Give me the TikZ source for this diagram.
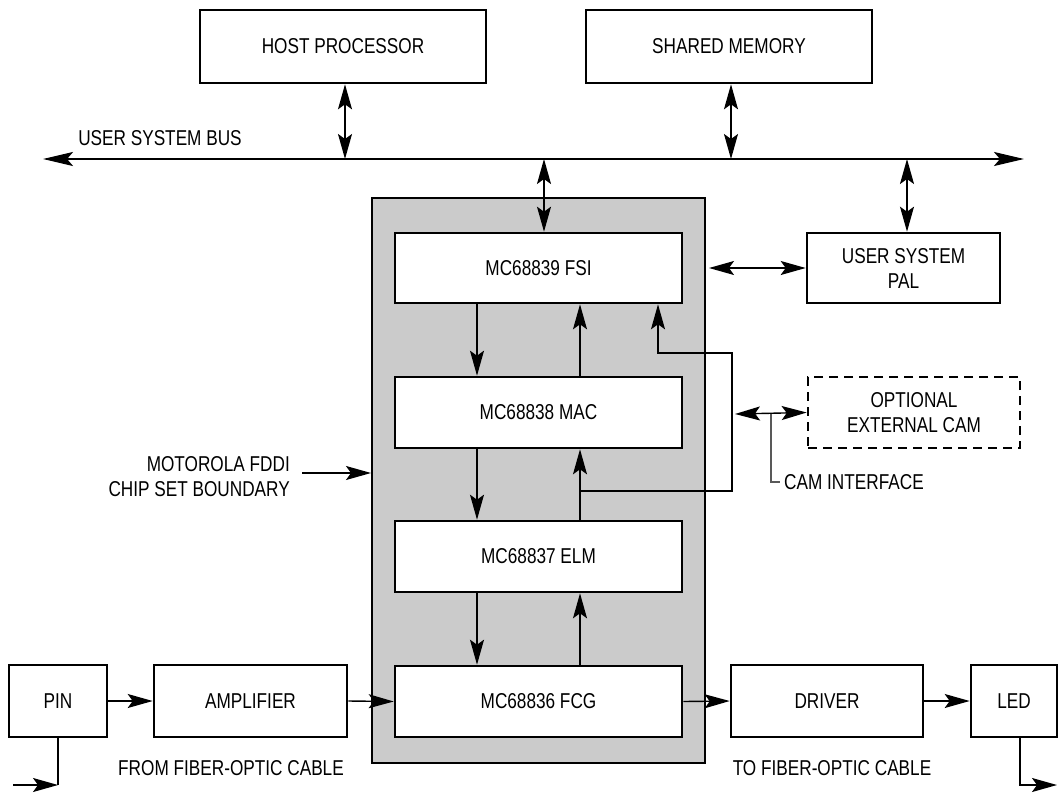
\documentclass[tikz,border=0pt]{standalone}
\usepackage{fontspec}
\setmainfont{Liberation Sans}[FakeStretch=0.8]
\usetikzlibrary{arrows.meta,calc}
\definecolor{chipgray}{HTML}{CBCBCB}
\tikzset{
  blk/.style={draw, line width=2.6pt, fill=white, inner sep=0pt, align=center, font=\fontsize{21.5}{25}\selectfont},
  dblk/.style={blk, dash pattern=on 9pt off 6pt},
  chipbox/.style={draw, line width=2pt, fill=chipgray, inner sep=0pt},
  hd/.tip={Stealth[length=25pt,width=14pt,inset=5pt]},
  arr/.style={line width=1.4pt, -hd},
  dbl/.style={line width=1.4pt, hd-hd},
  lbl/.style={inner sep=0pt, font=\fontsize{21.5}{25}\selectfont, align=center},
}
\begin{document}
\begin{tikzpicture}[x=1pt,y=-1pt]
\useasboundingbox (0,0) rectangle (1058,793);
% chip set boundary
\node[chipbox, minimum width=333pt, minimum height=565pt] (chip) at (538.5,480.5) {};
% boxes
\node[blk, minimum width=286pt, minimum height=73pt] (host) at (343,46.5) {HOST PROCESSOR};
\node[blk, minimum width=286pt, minimum height=73pt] (shm) at (729,46.5) {SHARED MEMORY};
\node[blk, minimum width=287pt, minimum height=70pt] (fsi) at (538.5,268) {MC68839 FSI};
\node[blk, minimum width=287pt, minimum height=71pt] (mac) at (538.5,412.5) {MC68838 MAC};
\node[blk, minimum width=287pt, minimum height=71pt] (elm) at (538.5,556.5) {MC68837 ELM};
\node[blk, minimum width=287pt, minimum height=71pt] (fcg) at (538.5,701.5) {MC68836 FCG};
\node[blk, minimum width=193pt, minimum height=70pt] (pal) at (903.5,268) {USER SYSTEM\\PAL};
\node[dblk, minimum width=212pt, minimum height=71pt] (cam) at (914,412.5) {OPTIONAL\\EXTERNAL CAM};
\node[blk, minimum width=98pt, minimum height=72pt] (pin) at (58,701) {PIN};
\node[blk, minimum width=193pt, minimum height=72pt] (amp) at (250.5,701) {AMPLIFIER};
\node[blk, minimum width=192pt, minimum height=72pt] (drv) at (827,701) {DRIVER};
\node[blk, minimum width=86pt, minimum height=72pt] (led) at (1014,701) {LED};
% labels
\node[lbl] (busl) at (160,138) {USER SYSTEM BUS};
\node[lbl, anchor=east, align=right] (moto) at (290,477) {MOTOROLA FDDI\\CHIP SET BOUNDARY};
\node[lbl, anchor=west] (camif) at (784,482) {CAM INTERFACE};
\node[lbl] (from) at (231,768) {FROM FIBER-OPTIC CABLE};
\node[lbl] (to) at (832,768) {TO FIBER-OPTIC CABLE};
% bus
\coordinate (busL) at (43,159);
\coordinate (busR) at (1024,159);
\draw[line width=2.2pt, {Stealth[length=30pt,width=14pt,inset=6pt]}-{Stealth[length=30pt,width=14pt,inset=6pt]}] (busL) -- (busR);
\draw[dbl] ([xshift=2pt]host.south) -- ([xshift=2pt]host.south |- busL);
\draw[dbl] ([xshift=2pt]shm.south) -- ([xshift=2pt]shm.south |- busL);
\draw[dbl] ([xshift=5.5pt]fsi.north |- busL) -- ([xshift=5.5pt]fsi.north);
\draw[dbl] ([xshift=3.5pt]pal.north |- busL) -- ([xshift=3.5pt]pal.north);
% FSI <-> PAL
\draw[dbl] ([xshift=3pt]chip.east |- fsi.east) -- (pal.west);
% vertical chain
\draw[arr] ([xshift=-61.5pt]fsi.south) -- ([xshift=-61.5pt]mac.north);
\draw[arr] ([xshift=41.5pt]mac.north) -- ([xshift=41.5pt]fsi.south);
\draw[arr] ([xshift=-61.5pt]mac.south) -- ([xshift=-61.5pt]elm.north);
\draw[arr] ([xshift=41.5pt]elm.north) -- ([xshift=41.5pt]mac.south);
\draw[arr] ([xshift=-61.5pt]elm.south) -- ([xshift=-61.5pt]fcg.north);
\draw[arr] ([xshift=41.5pt]fcg.north) -- ([xshift=41.5pt]elm.south);
% CAM interface wiring
\coordinate (j1) at (580,491);
\coordinate (j2) at (732,491);
\coordinate (j3) at (732,353);
\coordinate (j4) at (658,353);
\draw[arr] (j1) -- (j2) -- (j3) -- (j4) -- (j4 |- fsi.south);
\coordinate (camL) at (735,414);
\draw[dbl] (camL) -- (cam.west);
\coordinate (ci1) at (771,414);
\coordinate (ci2) at (771,482);
\coordinate (ci3) at (780,482);
\draw[line width=1.2pt, black!65] (ci1) -- (ci2) -- (ci3);
% Motorola boundary arrow
\coordinate (mA) at (302,473);
\draw[arr] (mA) -- (mA -| chip.west);
% bottom chain
\draw[arr] (pin.east) -- (amp.west);
\draw[arr] (amp.east) -- (fcg.west);
\draw[arr] (fcg.east) -- (drv.west);
\draw[arr] (drv.east) -- (led.west);
\coordinate (pinC) at (58,785);
\coordinate (pinIn) at (13,785);
\draw[line width=1.4pt] (pin.south) -- (pinC);
\draw[arr] (pinIn) -- (pinC);
\coordinate (ledC) at (1020,785);
\coordinate (ledOut) at (1057,785);
\draw[arr] ([xshift=6pt]led.south) -- (ledC) -- (ledOut);
\end{tikzpicture}
\end{document}
